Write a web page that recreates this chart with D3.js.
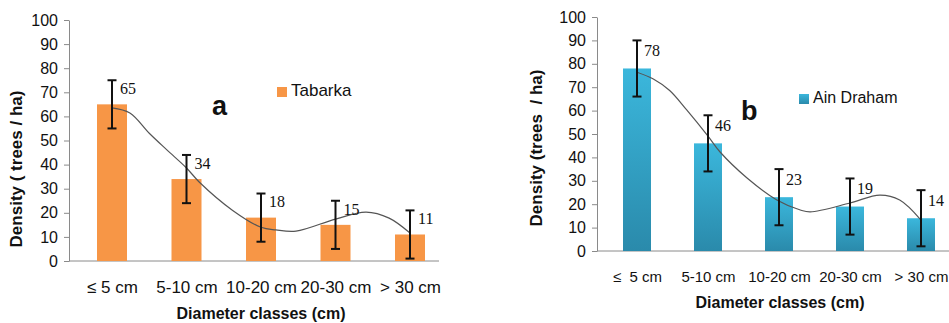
<!DOCTYPE html>
<html>
<head>
<meta charset="utf-8">
<script src="https://cdn.jsdelivr.net/npm/d3@7"></script>
<style>
  html, body { margin: 0; padding: 0; background: #fff; }
  svg { display: block; }
  text { white-space: pre; }
</style>
</head>
<body>
<svg id="chart" width="949" height="323"></svg>
<script>
// Diameter classes shared by both stands
const categoriesA = ["≤ 5 cm", "5-10 cm", "10-20 cm", "20-30 cm", "> 30 cm"];
const categoriesB = ["≤  5 cm", "5-10 cm", "10-20 cm", "20-30 cm", "> 30 cm"];

// Tree density (trees / ha) and error bar half-widths
const tabarka = [65, 34, 18, 15, 11];
const tabarkaErr = [10, 10, 10, 10, 10];
const ainDraham = [78, 46, 23, 19, 14];
const ainDrahamErr = [12, 12, 12, 12, 12];

// Smoothed trend curves: [position in class units, density]
const trendTabarka = [[0, 63.5], [0.24, 61.4], [0.5, 53], [0.74, 46], [1, 38.6], [1.17, 32.8],
  [1.62, 21], [2, 14], [2.2, 12.9], [2.47, 12.4], [3, 17.4], [3.41, 20.3], [3.72, 17.8], [4, 11.6]];
const trendAinDraham = [[0, 76.4], [0.23, 73.5], [0.46, 68.6], [0.7, 60.3], [1, 49.1], [1.17, 42.3],
  [1.55, 31.2], [1.97, 21.8], [2.3, 17.5], [2.44, 16.7], [3, 20.5], [3.42, 23.9], [3.7, 21.8], [4, 13.2]];

const yTicks = [0, 10, 20, 30, 40, 50, 60, 70, 80, 90, 100];

const svg = d3.select("#chart");
svg.append("rect").attr("width", 949).attr("height", 323).attr("fill", "#fff");

const defs = svg.append("defs");
const grad = defs.append("linearGradient").attr("id", "blueBar")
  .attr("x1", 0).attr("y1", 0).attr("x2", 0).attr("y2", 1);
grad.append("stop").attr("offset", "0%").attr("stop-color", "#3bb7dc");
grad.append("stop").attr("offset", "100%").attr("stop-color", "#2a8aab");

const SANS = "'Liberation Sans', Arial, sans-serif";
const SERIF = "'Liberation Serif', 'Times New Roman', serif";

function panel(cfg) {
  const g = svg.append("g");
  const y = d3.scaleLinear().domain([0, 100]).range([cfg.yBottom, cfg.yTop]);
  const x = d3.scalePoint().domain(cfg.categories).range([cfg.xFirst, cfg.xLast]);
  const t = d3.scaleLinear().domain([0, cfg.categories.length - 1]).range([cfg.xFirst, cfg.xLast]);
  const axisColor = "#8a8a8a";

  // Y axis
  const ya = g.append("g").attr("transform", `translate(${cfg.axisX},0)`)
    .call(d3.axisLeft(y).tickValues(yTicks).tickSize(5).tickSizeOuter(0).tickPadding(6));
  ya.select(".domain").attr("stroke", axisColor);
  ya.selectAll(".tick line").attr("stroke", axisColor);
  ya.selectAll(".tick text").attr("font-family", SANS).attr("font-size", cfg.tickSize)
    .attr("fill", "#111");

  // X axis baseline and class labels
  g.append("line").attr("x1", cfg.axisX).attr("x2", cfg.axisEnd)
    .attr("y1", y(0)).attr("y2", y(0)).attr("stroke", axisColor);
  const xa = g.append("g").attr("transform", `translate(0,${y(0)})`)
    .call(d3.axisBottom(x).tickSize(0).tickPadding(20));
  xa.select(".domain").remove();
  xa.selectAll(".tick text").attr("font-family", SANS).attr("font-size", cfg.catSize)
    .attr("fill", "#111");

  // Bars
  g.selectAll("rect.bar").data(cfg.values).enter().append("rect")
    .attr("class", "bar")
    .attr("x", (d, i) => x(cfg.categories[i]) - cfg.barWidth / 2)
    .attr("width", cfg.barWidth)
    .attr("y", d => y(d))
    .attr("height", d => y(0) - y(d))
    .attr("fill", cfg.fill);

  // Trend curve
  const line = d3.line().x(d => t(d[0])).y(d => y(d[1])).curve(d3.curveCatmullRom.alpha(0.5));
  g.append("path").datum(cfg.trend).attr("d", line)
    .attr("fill", "none").attr("stroke", "#555").attr("stroke-width", 1.2);

  // Error bars
  const eb = g.selectAll("g.err").data(cfg.values).enter().append("g").attr("class", "err");
  const cap = 4.5;
  eb.append("line")
    .attr("x1", (d, i) => x(cfg.categories[i])).attr("x2", (d, i) => x(cfg.categories[i]))
    .attr("y1", (d, i) => y(d + cfg.errors[i])).attr("y2", (d, i) => y(d - cfg.errors[i]));
  eb.append("line")
    .attr("x1", (d, i) => x(cfg.categories[i]) - cap).attr("x2", (d, i) => x(cfg.categories[i]) + cap)
    .attr("y1", (d, i) => y(d + cfg.errors[i])).attr("y2", (d, i) => y(d + cfg.errors[i]));
  eb.append("line")
    .attr("x1", (d, i) => x(cfg.categories[i]) - cap).attr("x2", (d, i) => x(cfg.categories[i]) + cap)
    .attr("y1", (d, i) => y(d - cfg.errors[i])).attr("y2", (d, i) => y(d - cfg.errors[i]));
  eb.selectAll("line").attr("stroke", "#111").attr("stroke-width", 2);

  // Value labels
  g.selectAll("text.val").data(cfg.values).enter().append("text")
    .attr("class", "val")
    .attr("x", (d, i) => x(cfg.categories[i]) + cfg.labelDx)
    .attr("y", d => y(d) + cfg.labelDy)
    .attr("dominant-baseline", "middle")
    .attr("font-family", SERIF).attr("font-size", 16).attr("fill", "#111")
    .text(d => d);

  // Legend
  g.append("rect").attr("x", cfg.legendX).attr("y", cfg.legendY - 5).attr("width", 10).attr("height", 10)
    .attr("fill", cfg.fill);
  g.append("text").attr("x", cfg.legendX + 14).attr("y", cfg.legendY)
    .attr("dominant-baseline", "middle")
    .attr("font-family", SANS).attr("font-size", cfg.legendSize).attr("fill", "#111")
    .text(cfg.name);

  // Panel letter
  g.append("text").attr("x", cfg.letterX).attr("y", cfg.letterY)
    .attr("font-family", SANS).attr("font-weight", "bold").attr("font-size", 27).attr("fill", "#111")
    .text(cfg.letter);

  // Axis titles
  g.append("text").attr("x", cfg.xTitleX).attr("y", cfg.xTitleY)
    .attr("text-anchor", "middle").attr("dominant-baseline", "middle")
    .attr("font-family", SANS).attr("font-weight", "bold").attr("font-size", 16).attr("fill", "#111")
    .text("Diameter classes (cm)");
  g.append("text")
    .attr("transform", `translate(${cfg.yTitleX},${cfg.yTitleY}) rotate(-90)`)
    .attr("text-anchor", "middle").attr("dominant-baseline", "middle")
    .attr("font-family", SANS).attr("font-weight", "bold").attr("font-size", cfg.yTitleSize).attr("fill", "#111")
    .text(cfg.yTitle);
}

panel({
  categories: categoriesA, values: tabarka, errors: tabarkaErr, trend: trendTabarka,
  yBottom: 261, yTop: 20, xFirst: 112, xLast: 410, axisX: 69, axisEnd: 439,
  barWidth: 30, fill: "#f79646", tickSize: 16, catSize: 17,
  labelDx: 8, labelDy: -14,
  legendX: 277, legendY: 92, legendSize: 17, name: "Tabarka",
  letter: "a", letterX: 212, letterY: 115,
  xTitleX: 261, xTitleY: 315, yTitleX: 18, yTitleY: 169, yTitleSize: 17,
  yTitle: "Density ( trees / ha)"
});

panel({
  categories: categoriesB, values: ainDraham, errors: ainDrahamErr, trend: trendAinDraham,
  yBottom: 251, yTop: 17, xFirst: 637, xLast: 921, axisX: 597, axisEnd: 949,
  barWidth: 28, fill: "url(#blueBar)", tickSize: 16, catSize: 15,
  labelDx: 7, labelDy: -16,
  legendX: 799, legendY: 99, legendSize: 16, name: "Ain Draham",
  letter: "b", letterX: 741, letterY: 120,
  xTitleX: 780, xTitleY: 304, yTitleX: 538, yTitleY: 148, yTitleSize: 17,
  yTitle: "Density (trees  / ha)"
});
</script>
</body>
</html>
